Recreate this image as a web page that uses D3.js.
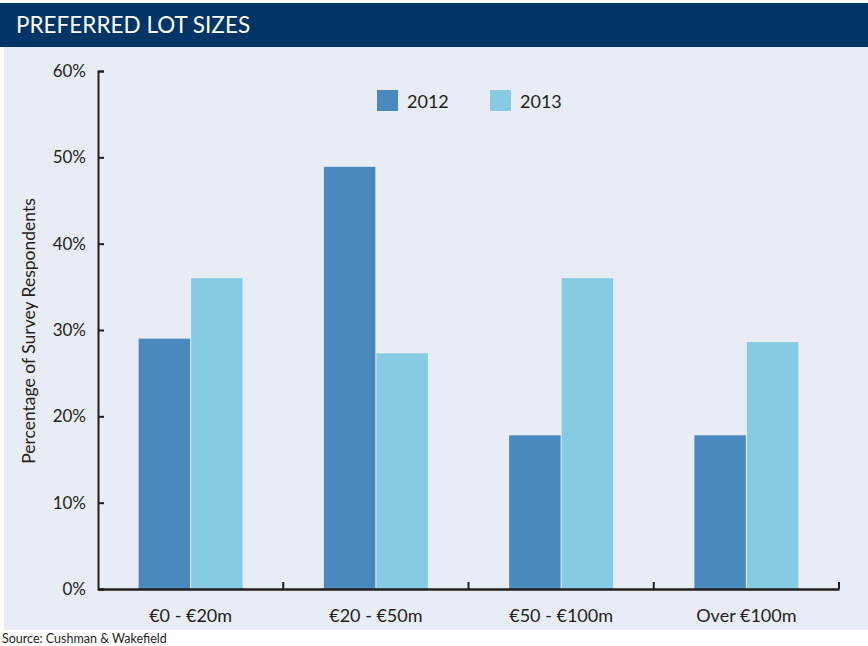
<!DOCTYPE html>
<html>
<head>
<meta charset="utf-8">
<script src="https://cdn.jsdelivr.net/npm/d3@7"></script>
<style>
  body { margin: 0; background: #fff; }
  svg { display: block; font-family: Lato, "Open Sans", sans-serif; }
</style>
</head>
<body>
<svg id="chart"></svg>
<script>
// chart data
var categories = ["€0 - €20m", "€20 - €50m", "€50 - €100m", "Over €100m"]
var seriesNames = ["2012", "2013"]
var values2012 = [29.0, 48.9, 17.8, 17.8]
var values2013 = [36.0, 27.3, 36.0, 28.6]
var yTicks = [0, 10, 20, 30, 40, 50, 60]

var colors = {"2012": "#4a89be", "2013": "#86cbe1"}

var W = 868, H = 646
var margin = {top: 71, right: 29, bottom: 57, left: 98}
var width = W - margin.left - margin.right
var height = H - margin.top - margin.bottom

var svg = d3.select("#chart")
    .attr("width", W)
    .attr("height", H)

// background panel + header band
svg.append("rect")
    .attr("x", 4).attr("y", 46)
    .attr("width", W - 4).attr("height", 584)
    .attr("fill", "#e8ecf4")

svg.append("rect")
    .attr("x", 0).attr("y", 3)
    .attr("width", W).attr("height", 44)
    .attr("fill", "#003565")

svg.append("text")
    .attr("x", 16).attr("y", 33)
    .attr("fill", "#fff")
    .attr("font-size", 22.5)
    .text("PREFERRED LOT SIZES")

svg.append("text")
    .attr("x", 2).attr("y", 643)
    .attr("fill", "#231f20")
    .attr("font-size", 12.5)
    .text("Source: Cushman & Wakefield")

var g = svg.append("g")
    .attr("transform", "translate(" + margin.left + "," + margin.top + ")")

var x0 = d3.scaleBand()
    .domain(categories)
    .range([0, width])

var x1 = d3.scaleBand()
    .domain(seriesNames)
    .range([0, x0.bandwidth()])
    .paddingInner(0.02)
    .paddingOuter(0.774)

var y = d3.scaleLinear()
    .domain([0, 60])
    .range([height, 0])

var rows = categories.map(function(c, i) {
    return {cat: c, vals: [{key: "2012", v: values2012[i]}, {key: "2013", v: values2013[i]}]}
})

// bars
g.selectAll("g.grp")
    .data(rows)
    .enter().append("g")
        .attr("class", "grp")
        .attr("transform", d => "translate(" + x0(d.cat) + ",0)")
    .selectAll("rect")
    .data(d => d.vals)
    .enter().append("rect")
        .attr("x", d => x1(d.key))
        .attr("width", x1.bandwidth())
        .attr("y", d => y(d.v))
        .attr("height", d => height - y(d.v))
        .attr("fill", d => colors[d.key])

// y axis, ticks pointing inward
var yAxis = g.append("g")
    .call(d3.axisLeft(y)
        .tickValues(yTicks)
        .tickSize(-6)
        .tickPadding(12)
        .tickFormat(d => d + "%"))

yAxis.selectAll("path, line")
    .attr("stroke", "#231f20")
    .attr("stroke-width", 2)
yAxis.selectAll("text")
    .attr("font-family", "Lato, sans-serif")
    .attr("font-size", 17)
    .attr("fill", "#231f20")

// x axis, labels only, boundary ticks pointing up
var xAxis = g.append("g")
    .attr("transform", "translate(0," + height + ")")
    .call(d3.axisBottom(x0).tickSize(0).tickPadding(20))

xAxis.select(".domain")
    .attr("stroke", "#231f20")
    .attr("stroke-width", 2.5)
xAxis.selectAll("text")
    .attr("font-family", "Lato, sans-serif")
    .attr("font-size", 18)
    .attr("fill", "#231f20")

xAxis.selectAll("line.bound")
    .data(categories)
    .enter().append("line")
        .attr("class", "bound")
        .attr("x1", d => x0(d) + x0.bandwidth())
        .attr("x2", d => x0(d) + x0.bandwidth())
        .attr("y1", 0)
        .attr("y2", -7)
        .attr("stroke", "#231f20")
        .attr("stroke-width", 2)

// legend
var legend = svg.append("g")
    .attr("transform", "translate(377,90)")

var lg = legend.selectAll("g")
    .data(seriesNames)
    .enter().append("g")
        .attr("transform", (d, i) => "translate(" + (i * 113) + ",0)")

lg.append("rect")
    .attr("width", 21).attr("height", 21)
    .attr("fill", d => colors[d])

lg.append("text")
    .attr("x", 30).attr("y", 18)
    .attr("font-size", 18)
    .attr("fill", "#231f20")
    .text(d => d)

// y axis title
svg.append("text")
    .attr("transform", "translate(35,331) rotate(-90)")
    .attr("text-anchor", "middle")
    .attr("font-size", 17.5)
    .attr("fill", "#231f20")
    .text("Percentage of Survey Respondents")
</script>
</body>
</html>
